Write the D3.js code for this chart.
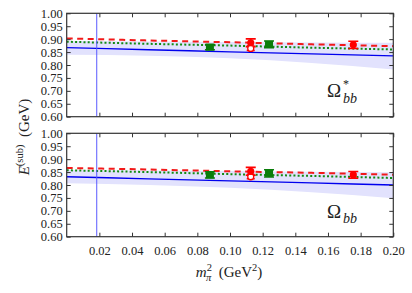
<!DOCTYPE html>
<html>
<head>
<meta charset="utf-8">
<script src="https://cdn.jsdelivr.net/npm/d3@7"></script>
<style>
  body { margin: 0; background: #fff; }
  svg text { font-family: "Liberation Serif", "Times New Roman", "DejaVu Serif", serif; fill: #222; }
</style>
</head>
<body>
<div id="chart"></div>
<script>
// Chart data
var xTicks = [0.02, 0.04, 0.06, 0.08, 0.10, 0.12, 0.14, 0.16, 0.18, 0.20]
var yTicks = [0.60, 0.65, 0.70, 0.75, 0.80, 0.85, 0.90, 0.95, 1.00]
var physPoint = 0.0184

// fit curves sampled at these m_pi^2 values
var curveX = [0, 0.05, 0.10, 0.15, 0.20]

// Omega*_bb panel
var starRed = [0.903, 0.895, 0.888, 0.880, 0.873]
var starGreen = [0.890, 0.882, 0.875, 0.867, 0.860]
var starBlue = [0.867, 0.859, 0.851, 0.843, 0.835]
var starBandHi = [0.893, 0.891, 0.889, 0.887, 0.886]
var starBandLo = [0.840, 0.836, 0.826, 0.808, 0.783]
var starGreenPts = [[0.0877, 0.869, 0.010], [0.1239, 0.880, 0.013]]
var starRedPts = [[0.1127, 0.886, 0.015], [0.1755, 0.878, 0.014]]
var starOpenPts = [[0.1127, 0.864, 0.008]]

// Omega_bb panel
var omRed = [0.866, 0.860, 0.853, 0.847, 0.840]
var omGreen = [0.857, 0.850, 0.842, 0.835, 0.827]
var omBlue = [0.832, 0.824, 0.816, 0.808, 0.800]
var omBandHi = [0.858, 0.856, 0.854, 0.851, 0.849]
var omBandLo = [0.807, 0.800, 0.789, 0.772, 0.749]
var omGreenPts = [[0.0877, 0.839, 0.012], [0.1239, 0.845, 0.014]]
var omRedPts = [[0.1127, 0.853, 0.015], [0.1755, 0.839, 0.013]]
var omOpenPts = [[0.1127, 0.832, 0.008]]

var width = 412
var height = 293
var left = 66.7, right = 393.3
var panelH = 103.4
var serif = '"Liberation Serif", "Times New Roman", "DejaVu Serif", serif'

var svg = d3.select('#chart')
  .append('svg')
  .attr('width', width)
  .attr('height', height)

var x = d3.scaleLinear().domain([0, 0.2]).range([left, right])

function drawPanel(top, red, green, blue, bandHi, bandLo, greenPts, redPts, openPts, showX) {
  var y = d3.scaleLinear().domain([0.6, 1.0]).range([top + panelH, top])
  var g = svg.append('g')
  var clipId = 'clip' + Math.round(top)
  svg.append('clipPath').attr('id', clipId)
    .append('rect').attr('x', left).attr('y', top).attr('width', right - left).attr('height', panelH)
  var plot = g.append('g').attr('clip-path', 'url(#' + clipId + ')')

  var idx = d3.range(curveX.length)
  var area = d3.area().x(i => x(curveX[i])).y0(i => y(bandLo[i])).y1(i => y(bandHi[i])).curve(d3.curveMonotoneX)
  plot.append('path').datum(idx).attr('d', area).attr('fill', '#e2e2fd')

  var line = arr => d3.line().x(i => x(curveX[i])).y(i => y(arr[i])).curve(d3.curveMonotoneX)(idx)
  plot.append('path').attr('d', line(blue)).attr('fill', 'none').attr('stroke', '#0000ee').attr('stroke-width', 1.3)
  plot.append('path').attr('d', line(green)).attr('fill', 'none').attr('stroke', '#138a13')
    .attr('stroke-width', 2).attr('stroke-dasharray', '2,2.2')
  plot.append('path').attr('d', line(red)).attr('fill', 'none').attr('stroke', '#f21a1a')
    .attr('stroke-width', 2).attr('stroke-dasharray', '6,4.5')

  plot.append('line').attr('x1', x(physPoint)).attr('x2', x(physPoint))
    .attr('y1', top).attr('y2', top + panelH).attr('stroke', '#5a5aff').attr('stroke-width', 1)

  function errBars(pts, color, cap) {
    pts.forEach(function (p) {
      var e = plot.append('g').attr('stroke', color).attr('stroke-width', 1.6)
      e.append('line').attr('x1', x(p[0])).attr('x2', x(p[0])).attr('y1', y(p[1] - p[2])).attr('y2', y(p[1] + p[2]))
      e.append('line').attr('x1', x(p[0]) - cap).attr('x2', x(p[0]) + cap).attr('y1', y(p[1] - p[2])).attr('y2', y(p[1] - p[2]))
      e.append('line').attr('x1', x(p[0]) - cap).attr('x2', x(p[0]) + cap).attr('y1', y(p[1] + p[2])).attr('y2', y(p[1] + p[2]))
    })
  }
  errBars(greenPts, '#0a7d0a', 5)
  errBars(redPts, '#f00', 5)
  errBars(openPts, '#f00', 4)

  plot.selectAll('.gsq').data(greenPts).enter().append('rect')
    .attr('x', d => x(d[0]) - 4).attr('y', d => y(d[1]) - 3.5).attr('width', 8).attr('height', 7)
    .attr('fill', '#0a7d0a')
  plot.selectAll('.oc').data(openPts).enter().append('circle')
    .attr('cx', d => x(d[0])).attr('cy', d => y(d[1])).attr('r', 3)
    .attr('fill', '#fff').attr('stroke', '#f00').attr('stroke-width', 1.3)
  plot.selectAll('.rc').data(redPts).enter().append('circle')
    .attr('cx', d => x(d[0])).attr('cy', d => y(d[1])).attr('r', 3.6)
    .attr('fill', '#f00')

  // axes: ticks inward on all four sides
  var yl = g.append('g').attr('transform', 'translate(' + left + ',0)')
    .call(d3.axisLeft(y).tickValues(yTicks).tickSize(-4).tickPadding(4).tickFormat(d3.format('.2f')))
  var yr = g.append('g').attr('transform', 'translate(' + right + ',0)')
    .call(d3.axisRight(y).tickValues(yTicks).tickSize(-4).tickFormat(''))
  var xb = g.append('g').attr('transform', 'translate(0,' + (top + panelH) + ')')
    .call(d3.axisBottom(x).tickValues(xTicks).tickSize(-4).tickPadding(9).tickFormat(showX ? d3.format('.2f') : ''))
  var xt = g.append('g').attr('transform', 'translate(0,' + top + ')')
    .call(d3.axisTop(x).tickValues(xTicks).tickSize(-4).tickFormat(''))
  ;[yl, yr, xb, xt].forEach(function (a) {
    a.attr('font-family', serif)
    a.select('.domain').remove()
    a.selectAll('line').attr('stroke', '#333')
    a.selectAll('text').style('font-family', serif).style('font-size', '12.5px').attr('fill', '#444')
  })
  g.append('rect').attr('x', left).attr('y', top).attr('width', right - left).attr('height', panelH)
    .attr('fill', 'none').attr('stroke', '#333').attr('stroke-width', 1.2)
}

drawPanel(13.3, starRed, starGreen, starBlue, starBandHi, starBandLo, starGreenPts, starRedPts, starOpenPts, false)
drawPanel(133.3, omRed, omGreen, omBlue, omBandHi, omBandLo, omGreenPts, omRedPts, omOpenPts, true)

// panel labels
svg.append('text').attr('x', 327).attr('y', 97).style('font-size', '19px').text('Ω')
svg.append('text').attr('x', 343).attr('y', 88).style('font-size', '12px').text('*')
svg.append('text').attr('x', 343).attr('y', 103).style('font-size', '14px').style('font-style', 'italic').text('bb')

svg.append('text').attr('x', 327).attr('y', 218).style('font-size', '19px').text('Ω')
svg.append('text').attr('x', 343).attr('y', 223).style('font-size', '14px').style('font-style', 'italic').text('bb')

// axis titles
var yTitle = svg.append('text').attr('transform', 'translate(29,137) rotate(-90)')
  .attr('text-anchor', 'middle').style('font-size', '15px')
yTitle.append('tspan').text('E').style('font-style', 'italic')
yTitle.append('tspan').text('(sub)').attr('dy', -6).style('font-size', '10.5px')
yTitle.append('tspan').text('\u2002(GeV)').attr('dy', 6)

var xTitle = svg.append('text').attr('x', 229).attr('y', 277)
  .attr('text-anchor', 'middle').style('font-size', '15px')
xTitle.append('tspan').text('m').style('font-style', 'italic')
xTitle.append('tspan').text('2').attr('dy', -6).style('font-size', '10.5px')
xTitle.append('tspan').text('π').attr('dx', -6).attr('dy', 10).style('font-size', '10.5px').style('font-style', 'italic')
xTitle.append('tspan').text('\u2002(GeV').attr('dy', -4)
xTitle.append('tspan').text('2').attr('dy', -6).style('font-size', '10.5px')
xTitle.append('tspan').text(')').attr('dy', 6)
</script>
</body>
</html>
